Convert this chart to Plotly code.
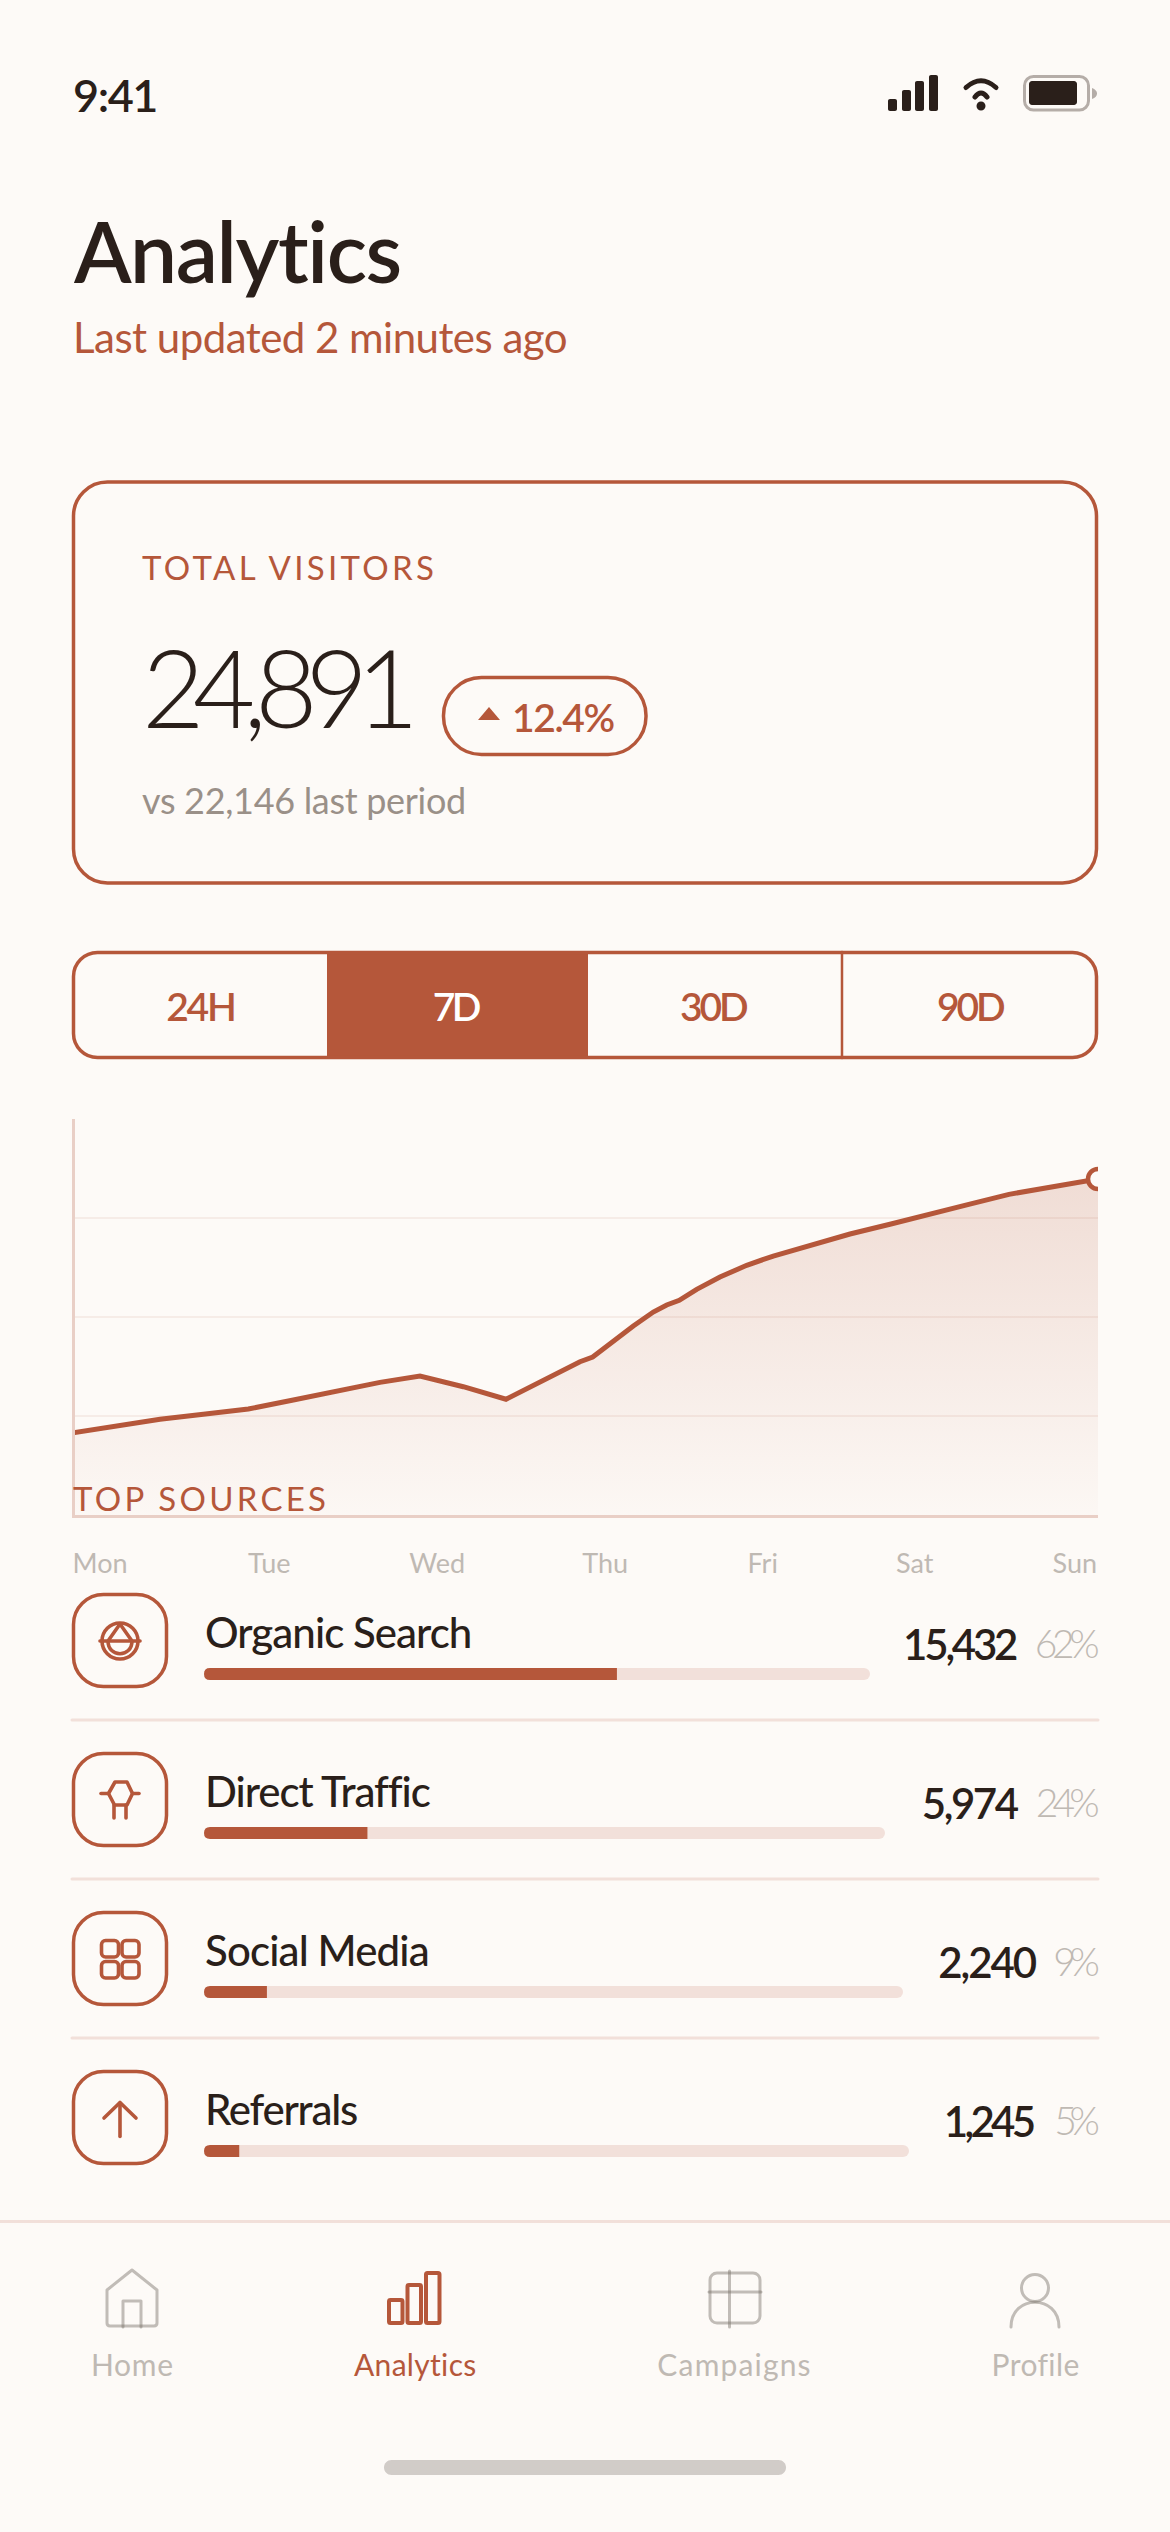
import json, re
import plotly.graph_objects as go

# ---------- data ----------
HOURS = [0, 6.76, 14.41, 21.5, 28.87, 36.24, 43.34, 50.43, 56.98, 64.07, 71.06, 77.17, 83.18, 85.26,
         88.63, 91.91, 95.18, 97.38, 99.44, 102.29, 106.1, 110.48, 114.83, 119.2, 122.48, 127.39,
         134.1, 140.75, 146.84, 153.42, 160.63, 168]
VISITORS = [828, 899, 967, 1017, 1071, 1162, 1256, 1340, 1404, 1296, 1169, 1364, 1548, 1596,
            1760, 1909, 2050, 2121, 2168, 2279, 2404, 2522, 2616, 2694, 2757, 2838,
            2939, 3047, 3138, 3239, 3316, 3394]
DAYS = ["Mon", "Tue", "Wed", "Thu", "Fri", "Sat", "Sun"]
DAY_TICKS = [4.6, 32.3, 59.8, 87.3, 113.1, 138, 164.2]
GRID_TICKS = [1000, 2000, 3000]
SOURCES = ["Organic Search", "Direct Traffic", "Social Media", "Referrals"]
VISITS = [15432, 5974, 2240, 1245]
SHARE = [62, 24, 9, 5]
RANGES = ["24H", "7D", "30D", "90D"]
NAV = ["Home", "Analytics", "Campaigns", "Profile"]

# ---------- style ----------
BG = "#FDFAF7"
RUST = "#B5573A"
INK = "#2A1F1A"
GREY = "#9A9088"
PALE = "#BFB9B3"
TRACK = "#F2E0DA"
FONT = "Lato"
W, H = 1170, 2532
DESC = 0.213
NUDGE = 3

def px(x): return x / W
def py(y): return 1 - y / H

def P(s):
    out, i = [], 0
    for tok in re.findall(r"[A-Za-z]|-?\d+\.?\d*", s):
        if tok.isalpha():
            out.append(tok); continue
        v = float(tok)
        out.append(f"{px(v):.6f}" if i % 2 == 0 else f"{py(v):.6f}")
        i += 1
    return " ".join(out)

shapes, notes, fits, anchors = [], [], [], []

def shape(path, line=None, fill=None, lw=3):
    shapes.append(dict(type="path", xref="paper", yref="paper", path=P(path), layer="above",
                       line=dict(color=line or "rgba(0,0,0,0)", width=lw if line else 0),
                       fillcolor=fill or "rgba(0,0,0,0)"))

def rr(x0, y0, x1, y1, r):
    k = r * 0.4477
    return (f"M {x0+r} {y0} L {x1-r} {y0} C {x1-k} {y0} {x1} {y0+k} {x1} {y0+r} "
            f"L {x1} {y1-r} C {x1} {y1-k} {x1-k} {y1} {x1-r} {y1} "
            f"L {x0+r} {y1} C {x0+k} {y1} {x0} {y1-k} {x0} {y1-r} "
            f"L {x0} {y0+r} C {x0} {y0+k} {x0+k} {y0} {x0+r} {y0} Z")

def circ(cx, cy, rx, ry=None):
    ry = ry or rx
    kx, ky = rx * 0.5523, ry * 0.5523
    return (f"M {cx-rx} {cy} C {cx-rx} {cy-ky} {cx-kx} {cy-ry} {cx} {cy-ry} "
            f"C {cx+kx} {cy-ry} {cx+rx} {cy-ky} {cx+rx} {cy} "
            f"C {cx+rx} {cy+ky} {cx+kx} {cy+ry} {cx} {cy+ry} "
            f"C {cx-kx} {cy+ry} {cx-rx} {cy+ky} {cx-rx} {cy} Z")

def text(s, x, base, size, color, weight=400, anchor="left", width=None, bear=0.06):
    notes.append(dict(text=s, xref="paper", yref="paper", x=px(x), y=py(base + NUDGE + DESC * size),
                      xanchor=anchor, yanchor="bottom", align=anchor, showarrow=False,
                      borderpad=0, font=dict(family=FONT, size=size, color=color, weight=weight)))
    fits.append(width + bear * size if width else None)
    anchors.append(anchor)

# status bar
text("9:41", 72, 110, 45, INK, 600, width=80, bear=0.12)
for x0, x1, top in [(888, 897, 99), (902, 911, 90), (915, 924, 81), (929, 938, 75)]:
    shape(rr(x0, top, x1, 111, 2), fill=INK)
shape("M 966 87.5 Q 981 74 996 87.5", line=INK, lw=5)
shape("M 975 97 Q 981 89 987 97", line=INK, lw=5)
shape(circ(981, 106, 4.5), fill=INK)
shape(rr(1024.5, 76.5, 1088.5, 110, 9), line="#B5ADA8", lw=3)
shape(rr(1029, 81, 1077, 105, 3), fill=INK)
shape("M 1092 88 Q 1097 90 1097 93.5 Q 1097 97 1092 99 Z", fill="#B5ADA8")

# header
text("Analytics", 72, 281, 84, INK, 600, width=328, bear=0.02)
text("Last updated 2 minutes ago", 72, 351, 42, RUST, 400, width=492)

# total card
shape(rr(73.5, 482, 1096.5, 883, 34), line=RUST, lw=3.5)
text("TOTAL VISITORS", 141, 578, 33, RUST, 400, width=291, bear=0.03)
text("24,891", 141, 726, 108, INK, 300, width=266, bear=0.1)
shape(rr(443.5, 677.5, 646, 754.5, 38), line=RUST, lw=3.5)
shape("M 478 720 L 489 707 L 500 720 Z", fill=RUST)
text("12.4%", 511, 730, 39, RUST, 600, width=100, bear=0.08)
text("vs 22,146 last period", 141, 812, 36, GREY, 400, width=322)

# range selector
shape("M 327 951 L 588 951 L 588 1059 L 327 1059 Z", fill=RUST)
shape(rr(73.5, 952.5, 1096.5, 1057.5, 24), line=RUST, lw=3.5)
shape("M 842 952 L 842 1058", line=RUST, lw=2.5)
for name, cx, w in zip(RANGES, [201, 457, 714, 971], [66, 44, 64, 64]):
    text(name, cx, 1019, 39, "#FFFFFF" if name == "7D" else RUST, 600, "center", w, bear=0.12)

text("TOP SOURCES", 72, 1509, 33, RUST, 400, width=252, bear=0.03)

# source rows
ROW_TOP = [1593, 1752, 1911, 2070]
RIGHT = [1019, 1020, 1038, 1037]
NAME_W = [265.7, 222, 223, 151.5]
VAL_W = [112, 94, 95.5, 89]
PCT_W = [61, 60, 43, 42]
TRACK_END = [870, 885, 903, 909]
BAR_H = 12
for i, top in enumerate(ROW_TOP):
    shape(rr(73.5, top + 1.5, 166.5, top + 93.5, 30), line=RUST, lw=3.5)
    text(SOURCES[i], 204, top + 53, 42, INK, 500, width=NAME_W[i], bear=0.04)
    text(f"{VISITS[i]:,}", RIGHT[i], top + 65, 42, INK, 600, "right", VAL_W[i], bear=0.08)
    text(f"{SHARE[i]}%", 1101, top + 63, 39, PALE, 300, "right", PCT_W[i], bear=0.1)
    # background-coloured corners round the left end of the bars
    b = top + 75
    shape(f"M 204 {b} L 210 {b} Q 204 {b} 204 {b+6} Z", fill=BG)
    shape(f"M 204 {b+12} L 210 {b+12} Q 204 {b+12} 204 {b+6} Z", fill=BG)
for y in (1720, 1879, 2038):
    shape(f"M 72 {y} L 1098 {y}", line=TRACK, lw=3)

# row icons
shape(circ(120, 1641, 18), line=RUST, lw=3.6)
shape("M 100 1641 L 140 1641", line=RUST, lw=3.6)
shape("M 120 1624 L 108 1641 C 108 1658 132 1658 132 1641 Z", line=RUST, lw=3.6)
shape("M 115 1782 L 127 1782 L 132.5 1793.5 L 127 1805 L 114.5 1805 L 108.5 1793.5 Z", line=RUST, lw=3.6)
shape("M 101 1793.5 L 108.5 1793.5", line=RUST, lw=3.6)
shape("M 132.5 1793.5 L 139 1793.5", line=RUST, lw=3.6)
shape("M 114 1805 L 114 1818", line=RUST, lw=3.6)
shape("M 126 1805 L 126 1818", line=RUST, lw=3.6)
for x0, y0 in [(101.5, 1940.5), (122, 1940.5), (101.5, 1961.5), (122, 1961.5)]:
    shape(rr(x0, y0, x0 + 17, y0 + 16.5, 4), line=RUST, lw=3.6)
shape("M 120 2103 L 120 2136.5", line=RUST, lw=3.6)
shape("M 104 2118 L 120 2102.5 L 136 2118", line=RUST, lw=3.6)

# bottom navigation
shape("M 0 2221.5 L 1170 2221.5", line=TRACK, lw=3)
G = "rgba(120,112,104,0.45)"
shape("M 107 2290 L 132 2270 L 157 2290 L 157 2323 Q 157 2326 154 2326 L 110 2326 Q 107 2326 107 2323 Z", line=G)
shape("M 123 2327 L 123 2301 L 141 2301 L 141 2327", line=G)
for x0, x1, top in [(389, 402.5, 2300), (407.5, 421, 2285), (426, 439.5, 2273)]:
    shape(rr(x0, top, x1, 2323, 1.5), line=RUST, lw=4)
shape(rr(710, 2273, 760, 2323, 7), line=G)
shape("M 729.5 2271 L 729.5 2327", line=G)
shape("M 709 2292 L 761 2292", line=G)
shape(circ(1035, 2288, 13.5), line=G)
shape("M 1011 2327 C 1011 2294 1059 2294 1059 2327", line=G)
shape(rr(384, 2460, 786, 2475, 7.5), fill="#D1CCC8")
for name, cx, w in zip(NAV, [132, 415, 733.5, 1035], [81, 121.6, 152, 86]):
    text(name, cx, 2374, 30, RUST if name == "Analytics" else PALE, 400, "center", w, bear=0.04)

# ---------- figure ----------
fig = go.Figure()
fig.add_trace(go.Scatter(x=HOURS, y=VISITORS, mode="lines", line=dict(color=RUST, width=5),
                         fill="tozeroy", fillcolor="rgba(181,87,58,0.1)",
                         fillgradient=dict(type="vertical",
                                           colorscale=[[0, "rgba(181,87,58,0.015)"],
                                                       [1, "rgba(181,87,58,0.18)"]]),
                         hoverinfo="skip", showlegend=False, xaxis="x", yaxis="y"))
fig.add_trace(go.Scatter(x=HOURS[-1:], y=VISITORS[-1:], mode="markers",
                         marker=dict(size=20, color=BG, line=dict(color=RUST, width=4.5)),
                         hoverinfo="skip", showlegend=False, xaxis="x", yaxis="y"))

layout = dict(
    width=W, height=H, margin=dict(l=0, r=0, t=0, b=0, pad=0, autoexpand=False), autosize=False,
    paper_bgcolor=BG, plot_bgcolor="rgba(0,0,0,0)", showlegend=False,
    barmode="overlay", barcornerradius=6, shapes=shapes, annotations=notes,
    xaxis=dict(domain=[px(75), px(1098)], range=[0.491, 168], tickmode="array", tickvals=DAY_TICKS,
               ticktext=DAYS, ticks="outside", ticklen=23, tickcolor="rgba(0,0,0,0)", showgrid=False,
               zeroline=False, showline=True, linecolor="#E9CFC6", linewidth=3,
               tickfont=dict(family=FONT, size=27, color=PALE), fixedrange=True, anchor="y"),
    yaxis=dict(domain=[py(1515), py(1119)], range=[0, 4000], tickmode="array", tickvals=GRID_TICKS,
               showticklabels=False, ticks="", showgrid=True, gridcolor="#F6ECE7", gridwidth=2,
               zeroline=False, showline=True, linecolor="#E9CFC6", linewidth=3, fixedrange=True, anchor="x"),
)
for i, (share, end) in enumerate(zip(SHARE, TRACK_END)):
    n = i + 2
    top = ROW_TOP[i] + 75
    for val, col in ((100, TRACK), (share, RUST)):
        fig.add_trace(go.Bar(x=[val], y=[SOURCES[i]], orientation="h", width=1, marker=dict(color=col, line=dict(width=0)),
                             hoverinfo="skip", showlegend=False, xaxis=f"x{n}", yaxis=f"y{n}"))
    layout[f"xaxis{n}"] = dict(domain=[px(204), px(end)], range=[0, 100], visible=False, fixedrange=True, anchor=f"y{n}")
    layout[f"yaxis{n}"] = dict(domain=[py(top + BAR_H), py(top)], visible=False, fixedrange=True, anchor=f"x{n}")
fig.update_layout(**layout)

post = """
document.documentElement.style.background = '%s';
document.body.style.margin = '0';
document.body.style.background = '%s';
document.body.style.overflow = 'hidden';
var fits = %s, anchors = %s;
var gd = document.getElementById('{plot_id}');
function fit() {
  fits.forEach(function (w, i) {
    var t = gd.querySelector('g.annotation[data-index="' + i + '"] text');
    if (!t || !w) return;
    t.style.letterSpacing = '0px';
    var n = t.textContent.length;
    var s = (w - t.getComputedTextLength()) / (n - 1);
    t.style.letterSpacing = s.toFixed(3) + 'px';
    var dx = anchors[i] === 'right' ? s : anchors[i] === 'center' ? s / 2 : 0;
    t.setAttribute('dx', dx.toFixed(3));
  });
  gd.querySelectorAll('.shapelayer path').forEach(function (p) {
    p.style.strokeLinecap = 'round';
    p.style.strokeLinejoin = 'round';
  });
}
fit();
gd.on('plotly_afterplot', fit);
if (document.fonts && document.fonts.ready) document.fonts.ready.then(fit);
""" % (BG, BG, json.dumps(fits), json.dumps(anchors))

fig.write_html("out.html", config=dict(displayModeBar=False, responsive=False), post_script=post)
